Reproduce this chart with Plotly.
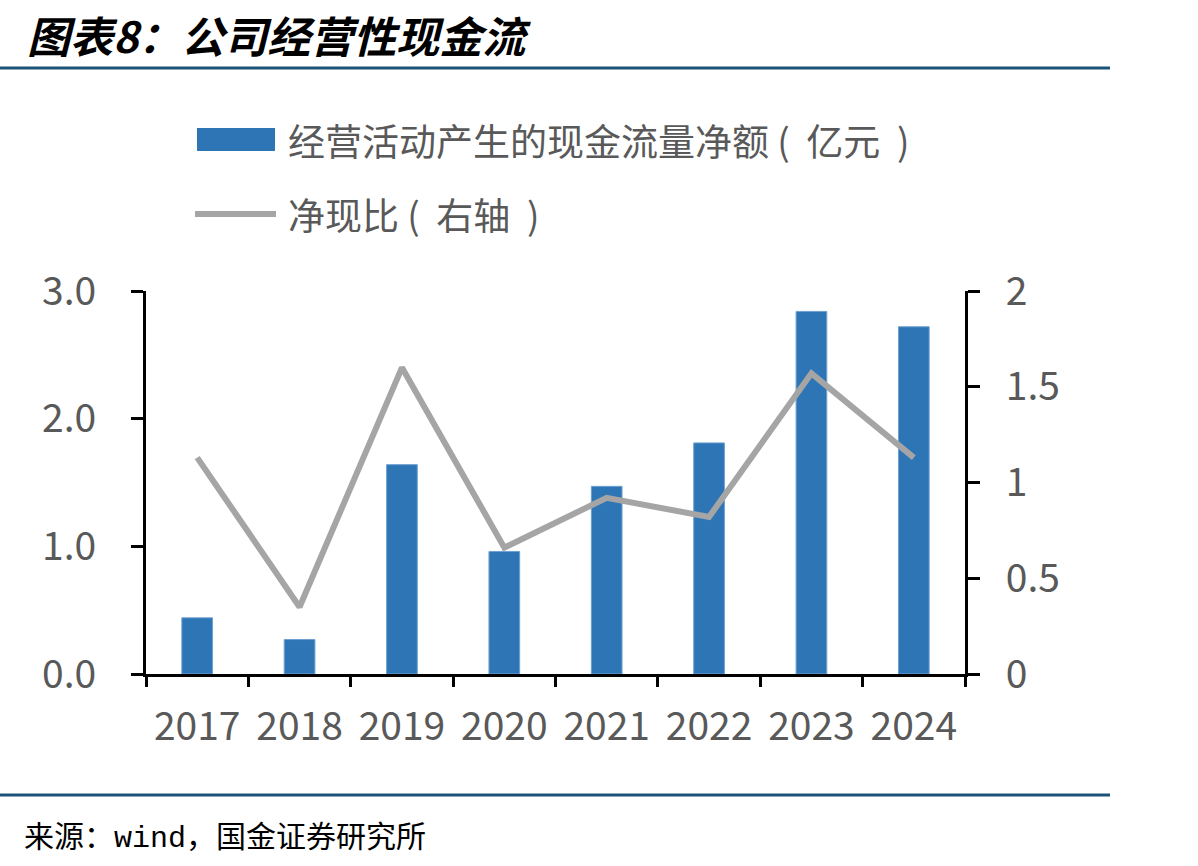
import plotly.graph_objects as go

years = ["2017", "2018", "2019", "2020", "2021", "2022", "2023", "2024"]
cash_flow = [0.44, 0.27, 1.64, 0.96, 1.47, 1.81, 2.84, 2.72]
ratio = [1.13, 0.35, 1.60, 0.66, 0.92, 0.82, 1.57, 1.13]

left_ticks = [0, 1, 2, 3]
left_labels = ["0.0", "1.0", "2.0", "3.0"]
right_ticks = [0, 0.5, 1, 1.5, 2]
right_labels = ["0", "0.5", "1", "1.5", "2"]

W, H = 1198, 866
L, R, T, B = 146, 965, 291, 674
BAR_COLOR = "#2E75B6"
LINE_COLOR = "#A5A5A5"
TEXT_COLOR = "#595959"
RULE_COLOR = "#1B5378"
FONT = "Noto Sans CJK SC"
NB = "\u00a0"


def px(x):
    return (x - L) / (R - L)


def py(y):
    return (B - y) / (B - T)


fig = go.Figure()
fig.add_trace(go.Bar(
    x=years, y=cash_flow, name="经营活动产生的现金流量净额（亿元）",
    marker=dict(color=BAR_COLOR, line=dict(color="#6FA0D0", width=1)),
    width=0.30, yaxis="y",
))
fig.add_trace(go.Scatter(
    x=years, y=ratio, name="净现比（右轴）", mode="lines",
    line=dict(color=LINE_COLOR, width=6), yaxis="y2",
))

shapes = [
    dict(type="line", xref="paper", yref="paper", x0=px(0), x1=px(1110),
         y0=py(68), y1=py(68), line=dict(color=RULE_COLOR, width=3)),
    dict(type="line", xref="paper", yref="paper", x0=px(0), x1=px(1110),
         y0=py(795), y1=py(795), line=dict(color=RULE_COLOR, width=3)),
    dict(type="rect", xref="paper", yref="paper", x0=px(197), x1=px(275),
         y0=py(151), y1=py(128), fillcolor=BAR_COLOR, line=dict(width=0)),
    dict(type="line", xref="paper", yref="paper", x0=px(195), x1=px(276),
         y0=py(214), y1=py(214), line=dict(color=LINE_COLOR, width=6)),
]

legend1 = "经营活动产生的现金流量净额" + NB + "(" + NB * 2 + "亿元" + NB * 2 + ")"
legend2 = "净现比" + NB + "(" + NB * 2 + "右轴" + NB * 2 + ")"
source = ("来源：<span style=\"font-family:'Liberation Mono'\">wind</span>"
          "，国金证券研究所")

annotations = [
    dict(text="<b><i>图表8：公司经营性现金流</i></b>", xref="paper", yref="paper",
         x=px(25), y=py(34), xanchor="left", yanchor="middle", showarrow=False,
         font=dict(family=FONT, size=43, color="#000000")),
    dict(text=source, xref="paper", yref="paper",
         x=px(22), y=py(834), xanchor="left", yanchor="middle", showarrow=False,
         font=dict(family=FONT, size=30, color="#000000")),
    dict(text=legend1, xref="paper", yref="paper",
         x=px(286), y=py(140), xanchor="left", yanchor="middle", showarrow=False,
         font=dict(family=FONT, size=37, color=TEXT_COLOR)),
    dict(text=legend2, xref="paper", yref="paper",
         x=px(286), y=py(214), xanchor="left", yanchor="middle", showarrow=False,
         font=dict(family=FONT, size=37, color=TEXT_COLOR)),
]

fig.update_layout(
    width=W, height=H,
    margin=dict(l=L, r=W - R, t=T, b=H - B, pad=0),
    paper_bgcolor="white", plot_bgcolor="white",
    showlegend=False,
    font=dict(family=FONT, color=TEXT_COLOR, size=38),
    shapes=shapes, annotations=annotations,
    xaxis=dict(
        type="category", range=[-0.5, 7.5], showline=True, linecolor="black",
        linewidth=3, ticks="outside", tickson="boundaries", ticklen=10,
        tickwidth=3, tickcolor="black", showgrid=False, zeroline=False,
        tickfont=dict(family=FONT, size=39, color=TEXT_COLOR),
        ticklabelstandoff=16,
    ),
    yaxis=dict(
        range=[0, 3], tickvals=left_ticks, ticktext=left_labels,
        showline=True, linecolor="black", linewidth=3, ticks="outside",
        ticklen=12, tickwidth=3, tickcolor="black", showgrid=False,
        zeroline=False, tickfont=dict(family=FONT, size=39, color=TEXT_COLOR),
        ticklabelstandoff=27,
    ),
    yaxis2=dict(
        range=[0, 2], tickvals=right_ticks, ticktext=right_labels,
        overlaying="y", side="right", showline=True, linecolor="black",
        linewidth=3, ticks="outside", ticklen=12, tickwidth=3,
        tickcolor="black", showgrid=False, zeroline=False,
        tickfont=dict(family=FONT, size=39, color=TEXT_COLOR),
        ticklabelstandoff=18,
    ),
)

fig.write_html("out.html")
